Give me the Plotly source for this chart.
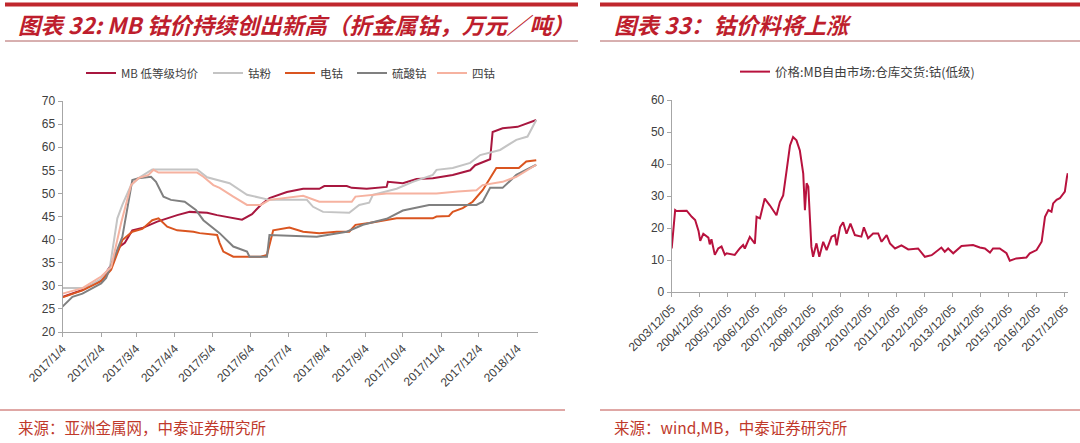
import plotly.graph_objects as go

# ---------------- Left chart data (万元/吨) ----------------
mb_dates = ["2017-01-04","2017-01-20","2017-02-04","2017-02-11","2017-02-19","2017-02-23","2017-03-01",
            "2017-03-09","2017-03-21","2017-04-06","2017-04-16","2017-04-30","2017-05-08","2017-05-21",
            "2017-05-28","2017-06-05","2017-06-12","2017-06-19","2017-07-03","2017-07-16","2017-07-29",
            "2017-08-02","2017-08-20","2017-08-24","2017-09-05","2017-09-21","2017-09-22","2017-10-04",
            "2017-10-15","2017-10-28","2017-11-13","2017-11-27","2017-12-01","2017-12-13","2017-12-15",
            "2017-12-23","2018-01-04","2018-01-19"]
mb_vals = [27.6,29.1,31.3,34.1,38.5,39.3,42,42.5,43.9,45.3,46,45.8,45.3,44.6,44.3,45.5,47.5,49,50.3,51,51,
           51.6,51.6,51.2,51,51.4,52.5,52.2,53.1,53.3,54,55,56.1,57.4,63.3,64.1,64.4,65.9]

powder_dates = ["2017-01-04","2017-01-23","2017-02-04","2017-02-11","2017-02-17","2017-02-21","2017-02-28",
                "2017-03-06","2017-03-17","2017-04-22","2017-04-30","2017-05-10","2017-05-18","2017-06-01",
                "2017-06-11","2017-06-19","2017-07-19","2017-07-24","2017-08-01","2017-08-22","2017-08-30",
                "2017-09-07","2017-09-10","2017-09-29","2017-10-12","2017-10-28","2017-10-31","2017-11-13",
                "2017-11-27","2017-12-05","2017-12-21","2018-01-03","2018-01-12","2018-01-19"]
powder_vals = [29.5,29.5,31.5,34,44.6,47.5,51.8,53.3,55.2,55.2,53.5,52.8,52.2,49.7,49,48.6,48.6,47.1,46,45.8,
               47.5,48,49.7,51,52.5,54,55.1,55.5,56.6,58.3,59.4,61.6,62.3,65.9]

elec_dates = ["2017-01-04","2017-01-20","2017-02-04","2017-02-12","2017-02-21","2017-03-01","2017-03-09",
              "2017-03-17","2017-03-22","2017-03-29","2017-04-06","2017-04-19","2017-04-24","2017-05-08",
              "2017-05-10","2017-05-13","2017-05-21","2017-06-12","2017-06-17","2017-06-22","2017-07-05",
              "2017-07-16","2017-07-29","2017-08-12","2017-08-22","2017-08-27","2017-09-07","2017-09-17",
              "2017-09-29","2017-10-28","2017-10-31","2017-11-10","2017-11-13","2017-11-21","2017-11-29",
              "2017-12-07","2017-12-18","2018-01-05","2018-01-11","2018-01-19"]
elec_vals = [27.5,29,31,33.5,39.9,41.7,42.3,44.2,44.6,42.8,42,41.7,41.4,41,39.3,37.4,36.3,36.3,36.7,42,42.6,
             41.7,41.4,41.7,41.7,43.2,43.6,44.1,44.6,44.6,45,45.1,46,46.8,48.2,50.7,55.5,55.5,56.9,57.2]

sulf_dates = ["2017-01-04","2017-01-12","2017-01-20","2017-02-04","2017-02-08","2017-02-13","2017-02-21",
              "2017-03-01","2017-03-06","2017-03-16","2017-03-20","2017-03-26","2017-04-01","2017-04-12",
              "2017-04-21","2017-04-27","2017-05-02","2017-05-10","2017-05-21","2017-06-01","2017-06-03",
              "2017-06-17","2017-06-19","2017-07-27","2017-08-20","2017-09-02","2017-09-21","2017-10-04",
              "2017-10-25","2017-12-02","2017-12-07","2017-12-13","2017-12-23","2018-01-03","2018-01-19"]
sulf_vals = [25.5,27.6,28.3,30.5,31.7,35,40.6,52.9,53.3,53.6,52.5,49.3,48.6,48.2,46.4,44.2,43.2,41.4,38.5,
             37.4,36.3,36.3,41,40.6,41.7,43.2,44.5,46.3,47.5,47.5,48.2,51.2,51.2,54,56.2]

tetra_dates = ["2017-01-04","2017-01-20","2017-02-04","2017-02-12","2017-02-20","2017-02-28","2017-03-06",
               "2017-03-14","2017-03-18","2017-03-22","2017-04-22","2017-04-27","2017-05-05","2017-05-10",
               "2017-05-21","2017-06-01","2017-06-12","2017-06-19","2017-07-16","2017-07-29","2017-08-24",
               "2017-08-27","2017-09-21","2017-10-31","2017-11-17","2017-12-02","2017-12-07","2017-12-23",
               "2018-01-03","2018-01-19"]
tetra_vals = [28.3,29.5,32,34,43.6,51.8,53.3,54,55.1,54.5,54.5,53.6,51.8,51.2,49.3,47.5,47.5,48.6,49.5,48.2,
              48.2,49.3,50,50,50.4,50.7,51.8,52.5,53.6,56.2]

left_names = ["MB 低等级均价", "钴粉", "电钴", "硫酸钴", "四钴"]
left_colors = ["#A8173F", "#C4C4C4", "#DA5520", "#808080", "#F6B2A0"]
left_ticks = ["2017-01-04","2017-02-04","2017-03-04","2017-04-04","2017-05-04","2017-06-04","2017-07-04",
              "2017-08-04","2017-09-04","2017-10-04","2017-11-04","2017-12-04","2018-01-04"]
left_ticktext = ["2017/1/4","2017/2/4","2017/3/4","2017/4/4","2017/5/4","2017/6/4","2017/7/4",
                 "2017/8/4","2017/9/4","2017/10/4","2017/11/4","2017/12/4","2018/1/4"]

# ---------------- Right chart data ----------------
mbfree_dates = ["2003-12-05","2004-01-19","2004-02-06","2004-06-17","2004-08-22","2004-10-05","2004-11-18",
                "2004-12-10","2005-01-19","2005-03-26","2005-04-13","2005-05-05","2005-06-18","2005-08-01",
                "2005-09-13","2005-10-27","2005-11-18","2006-01-23","2006-03-04","2006-05-08","2006-06-21",
                "2006-07-13","2006-09-16","2006-11-21","2006-12-13","2007-01-26","2007-03-29","2007-06-03",
                "2007-08-29","2007-10-12","2007-11-24","2008-01-08","2008-02-21","2008-04-01","2008-05-15",
                "2008-06-28","2008-08-11","2008-09-02","2008-09-24","2008-10-16","2008-11-25","2008-12-17",
                "2009-01-30","2009-03-08","2009-04-28","2009-06-11","2009-08-15","2009-09-28","2009-10-20",
                "2009-12-03","2010-01-12","2010-02-25","2010-04-17","2010-06-14","2010-09-06","2010-10-09",
                "2010-12-03","2011-02-06","2011-04-13","2011-05-27","2011-08-01","2011-09-13","2011-11-18",
                "2012-02-10","2012-05-08","2012-09-13","2012-12-10","2013-03-08","2013-05-12","2013-07-13",
                "2013-08-26","2013-10-09","2013-12-14","2014-04-01","2014-08-29","2014-11-25","2015-01-30",
                "2015-04-06","2015-05-16","2015-08-11","2015-11-07","2015-12-20","2016-03-13","2016-07-23",
                "2016-09-05","2016-12-02","2017-02-06","2017-03-22","2017-05-05","2017-06-14","2017-07-06",
                "2017-08-19","2017-10-01","2017-12-05","2018-01-02","2018-01-12"]
mbfree_vals = [13.6,25.6,25.3,25.4,23.5,22.5,19.1,16,18.2,17,14.9,16.5,11.6,13.6,14.2,11.6,12.1,11.8,11.6,
               13.6,14.7,13.6,17.2,15.1,23.5,23,29.2,27.1,24,28.1,30.2,38,45.8,48.4,47.4,44.2,37,25.6,34,
               32.9,14.1,11,15.2,11,15.7,13.1,17.3,17.8,14.6,20.3,21.8,18.2,21.4,17.8,17.3,20.2,16.8,18.3,
               18.3,15.7,17.8,15.2,13.6,14.6,13.3,13.6,11,11.5,12.6,13.9,12.6,13.6,12.1,14.4,14.7,13.9,13.6,
               12.3,13.6,13.6,12.1,9.8,10.5,10.8,12.1,13.1,15.7,23.5,25.6,25.1,27.7,28.8,29.3,31.4,36,37.1]
right_name = "价格:MB自由市场:仓库交货:钴(低级)"
right_color = "#B8123E"
right_ticks = [f"{y}-12-05" for y in range(2003, 2018)]
right_ticktext = [f"{y}/12/05" for y in range(2003, 2018)]

W, H = 1080, 443
def px(x): return x / W
def py(y): return 1 - y / H

fig = go.Figure()
left_data = [(mb_dates, mb_vals), (powder_dates, powder_vals), (elec_dates, elec_vals),
             (sulf_dates, sulf_vals), (tetra_dates, tetra_vals)]
legend_ids = ["legend", "legend2", "legend3", "legend4", "legend5"]
for (d, v), name, col, lg in zip(left_data, left_names, left_colors, legend_ids):
    fig.add_trace(go.Scatter(x=d, y=v, name=name, mode="lines", line=dict(color=col, width=2),
                             xaxis="x", yaxis="y", legend=lg))
fig.add_trace(go.Scatter(x=mbfree_dates, y=mbfree_vals, name=right_name, mode="lines",
                         line=dict(color=right_color, width=2), xaxis="x2", yaxis="y2", legend="legend6"))

axfont = dict(family="Liberation Sans, Arial, sans-serif", size=12, color="#404040")
axline = dict(showline=True, linecolor="#A6A6A6", linewidth=1, ticks="outside", ticklen=4,
              tickcolor="#A6A6A6", showgrid=False, zeroline=False, tickfont=axfont, automargin=False)

fig.update_layout(
    template="none",
    width=W, height=H, margin=dict(l=0, r=0, t=0, b=0, pad=0, autoexpand=False),
    paper_bgcolor="white", plot_bgcolor="white", showlegend=True,
    xaxis=dict(domain=[px(62.5), px(537.5)], type="date", range=["2017-01-04", "2018-01-20"],
               tickvals=left_ticks, ticktext=left_ticktext, tickangle=-45, anchor="y", **axline),
    yaxis=dict(domain=[py(332), py(101)], range=[20, 70], dtick=5, anchor="x", **axline),
    xaxis2=dict(domain=[px(671.7), px(1068)], type="date", range=["2003-12-05", "2018-01-15"],
                tickvals=right_ticks, ticktext=right_ticktext, tickangle=-45, anchor="y2", **axline),
    yaxis2=dict(domain=[py(292), py(100)], range=[0, 60], dtick=10, anchor="x2", **axline),
)

legfont = dict(family="Noto Sans CJK SC, sans-serif", size=11.5, color="#404040")
leg_x = [81, 208, 280, 352, 432]
for lg, x in zip(legend_ids, leg_x):
    fig.update_layout({lg: dict(x=px(x), y=py(73), xanchor="left", yanchor="middle", font=legfont,
                                bgcolor="rgba(0,0,0,0)", borderwidth=0)})
fig.update_layout(legend6=dict(x=px(735), y=py(72), xanchor="left", yanchor="middle",
                               font=dict(legfont, size=12.5),
                               bgcolor="rgba(0,0,0,0)", borderwidth=0))

# decorative rules
red = "#C0272D"
shapes = []
for x0, x1 in [(5, 578), (600, 1080)]:
    shapes.append(dict(type="line", xref="paper", yref="paper", x0=px(x0), x1=px(x1), y0=py(4.5), y1=py(4.5),
                       line=dict(color=red, width=4)))
    shapes.append(dict(type="line", xref="paper", yref="paper", x0=px(x0), x1=px(x1), y0=py(41), y1=py(41),
                       line=dict(color="#B06060", width=1)))
for x0, x1 in [(0, 565), (600, 1080)]:
    shapes.append(dict(type="line", xref="paper", yref="paper", x0=px(x0), x1=px(x1), y0=py(410), y1=py(410),
                       line=dict(color="#C0504D", width=1)))
fig.update_layout(shapes=shapes)

titlefont = dict(family="Noto Sans CJK SC, sans-serif", size=22.5, color="#BE1E2D", weight="bold", style="italic")
srcfont = dict(family="Noto Sans CJK SC, sans-serif", size=15.5, color="#C0392B")
ann = [
    dict(text="图表 32: MB 钴价持续创出新高（折金属钴，万元／吨）", x=px(16), y=py(24), font=titlefont),
    dict(text="图表 33：钴价料将上涨", x=px(612), y=py(24), font=titlefont),
    dict(text="来源：亚洲金属网，中泰证券研究所", x=px(16), y=py(427), font=srcfont),
    dict(text="来源：wind,MB，中泰证券研究所", x=px(612), y=py(427), font=srcfont),
]
for a in ann:
    a.update(xref="paper", yref="paper", xanchor="left", yanchor="middle", showarrow=False)
fig.update_layout(annotations=ann)

fig.write_html("out.html")
